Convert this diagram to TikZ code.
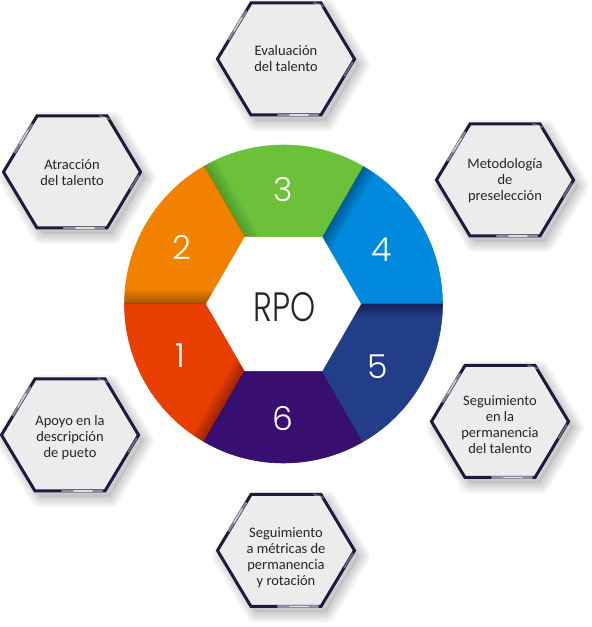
\documentclass[tikz,border=0pt]{standalone}
\usepackage{fontspec}
\setmainfont{Carlito}
\newfontfamily\rpofont{Poppins Light}
\usetikzlibrary{calc}
\definecolor{cone}{HTML}{E83E00}
\definecolor{ctwo}{HTML}{F28100}
\definecolor{cthree}{HTML}{6BC23A}
\definecolor{cfour}{HTML}{0089DD}
\definecolor{cfive}{HTML}{223D8A}
\definecolor{csix}{HTML}{380F70}
\definecolor{hexline}{HTML}{1C1B3E}
\definecolor{hexfillc}{HTML}{ECECEC}
\definecolor{txt}{HTML}{262626}
\newcommand\Rout{159}
\newcommand\Rin{77.5}
% segment: start angle, colour
\newcommand\wheelseg[2]{%
  \filldraw[#2, line width=0.6pt] ($(c)+(#1:\Rin)$) -- ($(c)+(#1:\Rout)$)
    arc[start angle=#1, end angle=#1+60, radius=\Rout] -- ($(c)+(#1+60:\Rin)$) -- cycle;}
% shadow along a boundary angle, falling on the clockwise side
\newcommand\segshadow[2]{%
  \begin{scope}
    \clip ($(c)+(#1-60:\Rin)$) -- ($(c)+(#1-60:\Rout)$)
      arc[start angle=#1-60, end angle=#1, radius=\Rout] -- ($(c)+(#1:\Rin)$) -- cycle;
    \begin{scope}[shift={(c)}, rotate=#1]
      \foreach \w in {1,...,14}
        \fill[black, opacity=#2] (60,-\w) rectangle (170,0);
    \end{scope}
  \end{scope}}
% hexagon box: name, x, y, text, text y
\newcommand\hexat[5]{%
  \begin{scope}[shift={(#2,#3)}]
    \begin{scope}[shift={(5,-6)}]
      \foreach \w in {20,15,10,5}
        \draw[black, opacity=0.045, line width=\w pt, line join=round]
          (-68.5,0) -- (-35,56) -- (35,56) -- (68.5,0) -- (35,-56) -- (-35,-56) -- cycle;
      \fill[black, opacity=0.08] (-68.5,0) -- (-35,56) -- (35,56) -- (68.5,0) -- (35,-56) -- (-35,-56) -- cycle;
    \end{scope}
    \fill[hexfillc] (-68.5,0) -- (-35,56) -- (35,56) -- (68.5,0) -- (35,-56) -- (-35,-56) -- cycle;
    \draw[hexborder] (-68.5,0) -- (-35,56) -- (35,56) -- (68.5,0) -- (35,-56) -- (-35,-56) -- cycle;
    \draw[white, opacity=0.45, line width=2.2pt, line cap=round] (-57,19.6) -- (-40,47.6);
    \draw[white, opacity=0.6, line width=1.6pt, line cap=round] (-52,28) -- (-44,41.5);
    \draw[white, opacity=0.5, line width=2.2pt, line cap=round] (-8,-56) -- (32,-56);
    \draw[white, opacity=0.7, line width=1.6pt, line cap=round] (4,-56) -- (22,-56);
    \draw[white, opacity=0.35, line width=1.8pt, line cap=round] (66.5,-3.5) -- (58.5,-16.8);
    \draw[white, opacity=0.35, line width=1.8pt, line cap=round] (28,56) -- (37,53);
  \end{scope}
  \node[hextext] (#1) at (#2,#5) {#4};
}
\begin{document}
\begin{tikzpicture}[x=1pt, y=1pt,
  hextext/.style={align=center, font=\fontsize{14.5}{16}\selectfont, text=txt, inner sep=0pt},
  numtext/.style={text=white, font=\rpofont\fontsize{33}{33}\selectfont, inner sep=0pt},
  hexborder/.style={draw=hexline, line width=3pt, line join=miter}]
\useasboundingbox (0,0) rectangle (592,627);
\fill[white] (0,0) rectangle (592,627);
\coordinate (c) at (283.5,323);
% wheel
\wheelseg{0}{cfour}
\wheelseg{60}{cthree}
\wheelseg{120}{ctwo}
\wheelseg{180}{cone}
\wheelseg{240}{csix}
\wheelseg{300}{cfive}
\segshadow{0}{0.022}
\segshadow{60}{0.022}
\segshadow{120}{0.012}
\segshadow{180}{0.022}
\segshadow{240}{0.022}
\fill[white] ($(c)+(0:\Rin)$) -- ($(c)+(60:\Rin)$) -- ($(c)+(120:\Rin)$) -- ($(c)+(180:\Rin)$) -- ($(c)+(240:\Rin)$) -- ($(c)+(300:\Rin)$) -- cycle;
\node[text=txt, font=\rpofont\fontsize{41}{41}\selectfont, inner sep=0pt] (rpo) at (285,320) {\scalebox{0.78}[1]{RPO}};
\node[numtext] (n1) at (180,271) {1};
\node[numtext] (n2) at (182,380) {2};
\node[numtext] (n3) at (283,437) {3};
\node[numtext] (n4) at (382,377) {4};
\node[numtext] (n5) at (378,260) {5};
\node[numtext] (n6) at (283,209) {6};
% hexagons
\hexat{eval}{286}{568}{Evaluación\\del talento}{568}
\hexat{atrac}{72}{455}{Atracción\\del talento}{454}
\hexat{meto}{505}{447}{Metodología\\de\\preselección}{446.5}
\hexat{apoyo}{70}{192}{Apoyo en la\\descripción\\de pueto}{189}
\hexat{segperm}{500}{205.5}{Seguimiento\\en la\\permanencia\\del talento}{202}
\hexat{segmet}{286}{76.5}{Seguimiento\\a métricas de\\permanencia\\y rotación}{69.5}
\end{tikzpicture}
\end{document}
